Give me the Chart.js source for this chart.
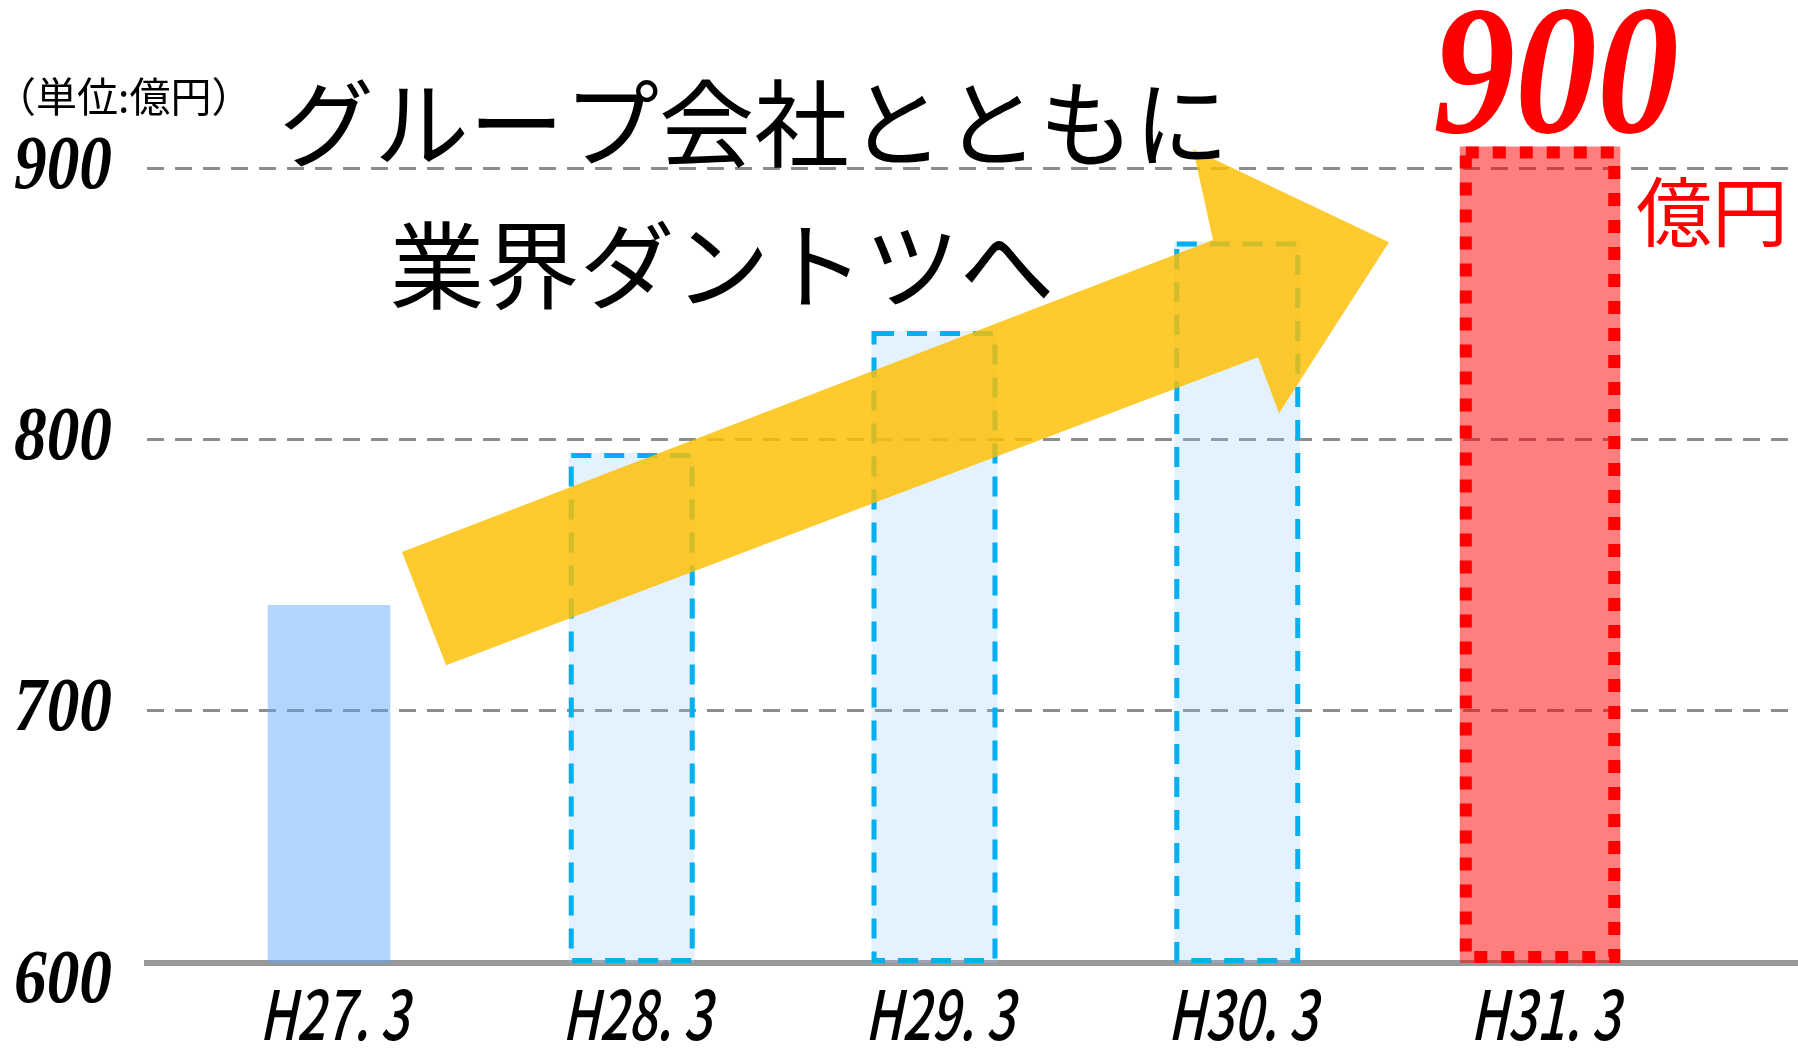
<!DOCTYPE html>
<html lang="ja">
<head>
<meta charset="utf-8">
<title>グループ会社とともに業界ダントツへ</title>
<style>
  html, body { margin: 0; padding: 0; background: #fff; }
  .chart-container { width: 1798px; height: 1049px; position: relative; }
</style>
</head>
<body>
<div class="chart-container"><canvas id="salesChart"></canvas></div>

<script src="https://cdn.jsdelivr.net/npm/chart.js"></script>
<script>
  // 売上高（単位：億円）
  const categories   = ['H27. 3', 'H28. 3', 'H29. 3', 'H30. 3', 'H31. 3'];
  const actualValues = [739, null, null, null, null];   // 実績
  const planValues   = [null, 795, 840, 873, null];     // 計画
  const targetValues = [null, null, null, null, 908];   // 目標
  const yTickLabels  = [600, 700, 800, 900];
  const yGridValues  = [700, 800, 900];
  const yMin = 607;
  const yMax = 962;

  // 矢印の頂点（x: 区分位置, y: 億円）
  const arrowX = [0.387, 0.241, 2.920, 2.854, 3.501, 3.138, 3.069];
  const arrowY = [716.8, 758.5, 873.5, 907.0, 872.7, 809.7, 830.3];

  const toPoints = vals => vals
    .map((v, i) => (v == null ? null : { x: i, y: v }))
    .filter(p => p);

  const JP = '"Noto Sans CJK JP", "Noto Sans", sans-serif';

  // 1) 点線・破線の枠（Chart.js の棒は破線枠を描けないので自前で）
  const outlinePlugin = {
    id: 'outlines',
    afterDatasetsDraw(chart) {
      const ctx = chart.ctx;
      chart.data.datasets.forEach((ds, di) => {
        const o = ds.outline;
        if (!o) return;
        chart.getDatasetMeta(di).data.forEach(bar => {
          const { x, y, base, width } = bar.getProps(['x', 'y', 'base', 'width'], true);
          const h = o.width / 2;
          ctx.save();
          ctx.strokeStyle = o.color;
          ctx.lineWidth = o.width;
          ctx.setLineDash(o.dash);
          ctx.strokeRect(x - width / 2 + h, y + h, width - o.width, base - y - o.width);
          ctx.restore();
        });
      });
    }
  };

  // 2) 右肩上がりの矢印
  const arrowPlugin = {
    id: 'arrow',
    afterDatasetsDraw(chart) {
      const { ctx, scales: { x, y } } = chart;
      ctx.save();
      ctx.beginPath();
      arrowX.forEach((ax, i) => {
        const px = x.getPixelForValue(ax);
        const py = y.getPixelForValue(arrowY[i]);
        if (i === 0) ctx.moveTo(px, py); else ctx.lineTo(px, py);
      });
      ctx.closePath();
      ctx.fillStyle = 'rgba(255, 190, 0, 0.82)';
      ctx.fill();
      ctx.restore();
    }
  };

  function drawText(ctx, text, x, y, opt) {
    ctx.save();
    ctx.translate(x, y);
    ctx.transform(opt.sx || 1, 0, -(opt.skew || 0), 1, 0, 0);
    ctx.font = opt.font;
    ctx.fillStyle = opt.color || '#000';
    ctx.textAlign = opt.align || 'left';
    ctx.textBaseline = opt.baseline || 'middle';
    ctx.fillText(text, 0, 0);
    ctx.restore();
  }

  // 3) 目盛りラベルと見出し
  const textPlugin = {
    id: 'texts',
    afterDraw(chart) {
      const { ctx, scales: { x, y } } = chart;

      yTickLabels.forEach(v => {
        drawText(ctx, String(v), 112, y.getPixelForValue(v), {
          font: 'italic bold 76px "Liberation Serif", serif', align: 'right', sx: 0.86
        });
      });

      categories.forEach((c, i) => {
        drawText(ctx, c, x.getPixelForValue(i) + 5, 1040, {
          font: '500 68px ' + JP, align: 'center', baseline: 'alphabetic', sx: 0.74, skew: 0.2
        });
      });

      drawText(ctx, '（単位:億円）', -5, 96, { font: '41px ' + JP });
      drawText(ctx, 'グループ会社とともに', 754, 124, { font: '95px ' + JP, align: 'center' });
      drawText(ctx, '業界ダントツへ', 722, 266, { font: '95px ' + JP, align: 'center' });

      drawText(ctx, '900', 1556, 132, {
        font: 'italic bold 184px "Liberation Serif", serif', color: '#ff0000',
        align: 'center', baseline: 'alphabetic', sx: 0.89
      });
      drawText(ctx, '億円', 1636, 212, { font: '76px ' + JP, color: '#ff0000' });
    }
  };

  const ctx = document.getElementById('salesChart').getContext('2d');
  new Chart(ctx, {
    type: 'bar',
    data: {
      datasets: [
        {
          label: '実績',
          data: toPoints(actualValues),
          backgroundColor: 'rgba(95, 168, 250, 0.48)',
          borderWidth: 0,
          base: yMin,
          grouped: false,
          categoryPercentage: 1,
          barPercentage: 0.405
        },
        {
          label: '計画',
          data: toPoints(planValues),
          backgroundColor: 'rgba(150, 200, 250, 0.26)',
          borderWidth: 0,
          base: yMin,
          grouped: false,
          categoryPercentage: 1,
          barPercentage: 0.416,
          outline: { color: '#00b0f0', width: 5, dash: [20, 13] }
        },
        {
          label: '目標',
          data: toPoints(targetValues),
          backgroundColor: 'rgba(255, 0, 0, 0.5)',
          borderWidth: 0,
          base: yMin,
          grouped: false,
          categoryPercentage: 1,
          barPercentage: 0.53,
          outline: { color: '#ff0000', width: 12, dash: [13, 14] }
        }
      ]
    },
    options: {
      responsive: true,
      maintainAspectRatio: false,
      animation: false,
      layout: { padding: { left: 147, right: 0, top: 0, bottom: 86 } },
      plugins: { legend: { display: false }, tooltip: { enabled: false } },
      scales: {
        x: {
          type: 'linear',
          bounds: 'data',
          offset: false,
          min: -0.601,
          max: 4.852,
          afterBuildTicks: s => { s.ticks = categories.map((c, i) => ({ value: i })); },
          ticks: { display: false },
          grid: { display: false, drawTicks: false, offset: false },
          border: { display: true, color: '#999999', width: 6 }
        },
        y: {
          bounds: 'data',
          min: yMin,
          max: yMax,
          afterBuildTicks: s => { s.ticks = yGridValues.map(v => ({ value: v })); },
          ticks: { display: false },
          grid: { color: '#8c8c8c', lineWidth: 3, drawTicks: false },
          border: { display: false, dash: [17, 11] }
        }
      }
    },
    plugins: [outlinePlugin, arrowPlugin, textPlugin]
  });
</script>
</body>
</html>
